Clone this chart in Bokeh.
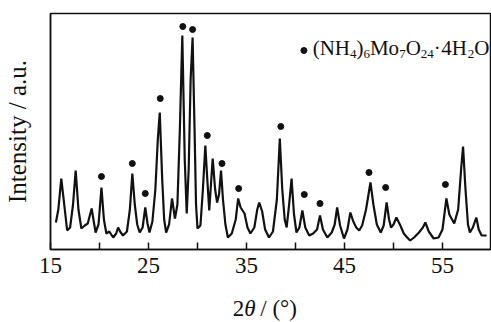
from bokeh.plotting import figure
from bokeh.models import Range1d, FixedTicker, Label
from bokeh.layouts import column
from bokeh.embed import file_html
from bokeh.resources import INLINE

# XRD trace (2theta in degrees, intensity in arbitrary units)
two_theta = [
    15.55, 15.8, 16.1, 16.4, 16.7, 17.0, 17.3, 17.57, 17.85, 18.15, 18.5, 18.8, 19.2, 19.6, 19.9,
    20.2, 20.45, 20.7, 21.0, 21.4, 21.7, 21.9, 22.1, 22.4, 22.8, 23.1, 23.35, 23.6, 23.85, 24.1,
    24.4, 24.67, 24.9, 25.1, 25.4, 25.7, 25.95, 26.15, 26.4, 26.6, 26.8, 27.1, 27.4, 27.7, 27.95,
    28.2, 28.45, 28.7, 28.9, 29.1, 29.3, 29.5, 29.7, 29.85, 30.0, 30.3, 30.55, 30.8, 31.0, 31.2,
    31.55, 31.8, 32.0, 32.2, 32.4, 32.6, 32.85, 33.1, 33.5, 33.9, 34.15, 34.4, 34.8, 35.1, 35.4,
    35.8, 36.1, 36.3, 36.6, 36.9, 37.3, 37.7, 38.1, 38.4, 38.65, 38.9, 39.1, 39.35, 39.6, 39.85,
    40.1, 40.4, 40.7, 41.0, 41.4, 41.8, 42.2, 42.5, 42.8, 43.25, 43.7, 44.0, 44.25, 44.55, 44.95,
    45.3, 45.6, 45.9, 46.2, 46.5, 46.8, 47.2, 47.65, 47.95, 48.3, 48.7, 49.0, 49.3, 49.55, 49.75,
    50.0, 50.3, 50.7, 51.05, 51.4, 51.7, 52.1, 52.6, 53.0, 53.25, 53.6, 54.1, 54.6, 55.0, 55.4,
    55.7, 56.2, 56.6, 56.9, 57.1, 57.35, 57.6, 57.8, 58.1, 58.45, 58.7, 59.0, 59.5,
]
intensity = [
    27, 40, 71, 45, 19, 22, 45, 79, 40, 21, 24, 26, 41, 17, 25,
    62, 30, 16, 18, 12, 16, 22, 18, 14, 18, 40, 76, 45, 25, 17,
    22, 42, 26, 17, 28, 60, 110, 137, 70, 30, 17, 25, 51, 31, 45,
    120, 214, 90, 36, 80, 170, 212, 120, 45, 21, 24, 60, 104, 70, 39,
    91, 60, 47, 55, 79, 50, 25, 12, 16, 30, 51, 42, 36, 22, 16,
    22, 40, 47, 38, 20, 12, 18, 50, 111, 60, 30, 22, 45, 71, 35,
    17, 22, 39, 22, 14, 16, 20, 34, 20, 12, 17, 25, 42, 24, 11,
    20, 37, 28, 22, 19, 24, 40, 67, 45, 25, 17, 24, 47, 30, 22,
    25, 32, 24, 16, 12, 9, 12, 17, 22, 27, 18, 11, 12, 20, 51,
    35, 26, 40, 80, 103, 60, 25, 17, 22, 32, 20, 14, 14,
]

# (NH4)6Mo7O24·4H2O reflection markers
marker_theta = [20.2, 23.35, 24.67, 26.2, 28.5, 29.5, 31.0, 32.5, 34.2, 38.5, 40.9, 42.5, 47.5, 49.2, 55.3]
marker_height = [73, 86, 56, 151, 223, 220, 114, 86, 61, 123, 55, 46, 77, 62, 65]

x_ticks = [15, 20, 25, 30, 35, 40, 45, 50, 55]
x_tick_labels = ["15", "", "25", "", "35", "", "45", "", "55"]

# legend text pieces: (text, is_subscript)
legend_parts = [("(NH", False), ("4", True), (")", False), ("6", True), ("Mo", False), ("7", True),
                ("O", False), ("24", True), ("\u00b7", False), ("4H", False), ("2", True), ("O", False)]
legend_offsets = [0, 37.3, 43.8, 50.8, 57.3, 86.5, 93.0, 108.2, 121.2, 128.5, 155.2, 161.7]

SERIF = "Liberation Serif"
INK = "#111111"
X0, X1 = 15, 59.9

p = figure(width=491, height=282, output_backend="svg", toolbar_location=None,
           x_range=Range1d(X0, X1), y_range=Range1d(0, 236),
           min_border_left=49, min_border_right=1, min_border_top=13, min_border_bottom=33)
p.outline_line_color = INK
p.outline_line_width = 1.5
p.xgrid.visible = False
p.ygrid.visible = False

p.line(two_theta, intensity, line_color=INK, line_width=2.2)
p.scatter(marker_theta, marker_height, size=6, color=INK)

# legend
p.scatter([40.86], [199], size=6, color=INK)
for (t, sub), off in zip(legend_parts, legend_offsets):
    p.add_layout(Label(x=41.75, y=196 if sub else 202, x_offset=off, text=t, text_font=SERIF,
                       text_font_size="13px" if sub else "21px", text_color=INK,
                       text_baseline="middle"))

xa = p.xaxis[0]
xa.ticker = FixedTicker(ticks=x_ticks)
xa.major_label_overrides = {t: l for t, l in zip(x_ticks, x_tick_labels)}
xa.minor_tick_line_color = None
xa.major_tick_in = 7
xa.major_tick_out = 0
xa.major_tick_line_width = 1.5
xa.major_tick_line_color = INK
xa.axis_line_color = INK
xa.axis_line_width = 1.5
xa.major_label_text_font = SERIF
xa.major_label_text_font_size = "23px"
xa.major_label_text_color = INK
xa.major_label_standoff = 8

ya = p.yaxis[0]
ya.ticker = FixedTicker(ticks=[])
ya.major_tick_line_color = None
ya.minor_tick_line_color = None
ya.axis_line_color = INK
ya.axis_line_width = 1.5
ya.axis_label = "Intensity / a.u."
ya.axis_label_text_font = SERIF
ya.axis_label_text_font_size = "25px"
ya.axis_label_text_font_style = "normal"
ya.axis_label_text_color = INK
ya.axis_label_standoff = 20

# x-axis title strip (2θ with italic theta), aligned with the main plot's x scale
q = figure(width=491, height=40, output_backend="svg", toolbar_location=None,
           x_range=Range1d(X0, X1), y_range=Range1d(0, 40),
           min_border_left=49, min_border_right=1, min_border_top=0, min_border_bottom=0)
q.axis.visible = False
q.grid.visible = False
q.outline_line_color = None
for t, style, off in [("2", "normal", 0), ("\u03b8", "italic", 11.5), ("/ (\u00b0)", "normal", 27.5)]:
    q.add_layout(Label(x=33.6, y=14, x_offset=off, text=t, text_font=SERIF, text_font_size="23px",
                       text_font_style=style, text_color=INK, text_baseline="middle"))

open("out.html", "w").write(file_html(column(p, q, spacing=0), INLINE))
